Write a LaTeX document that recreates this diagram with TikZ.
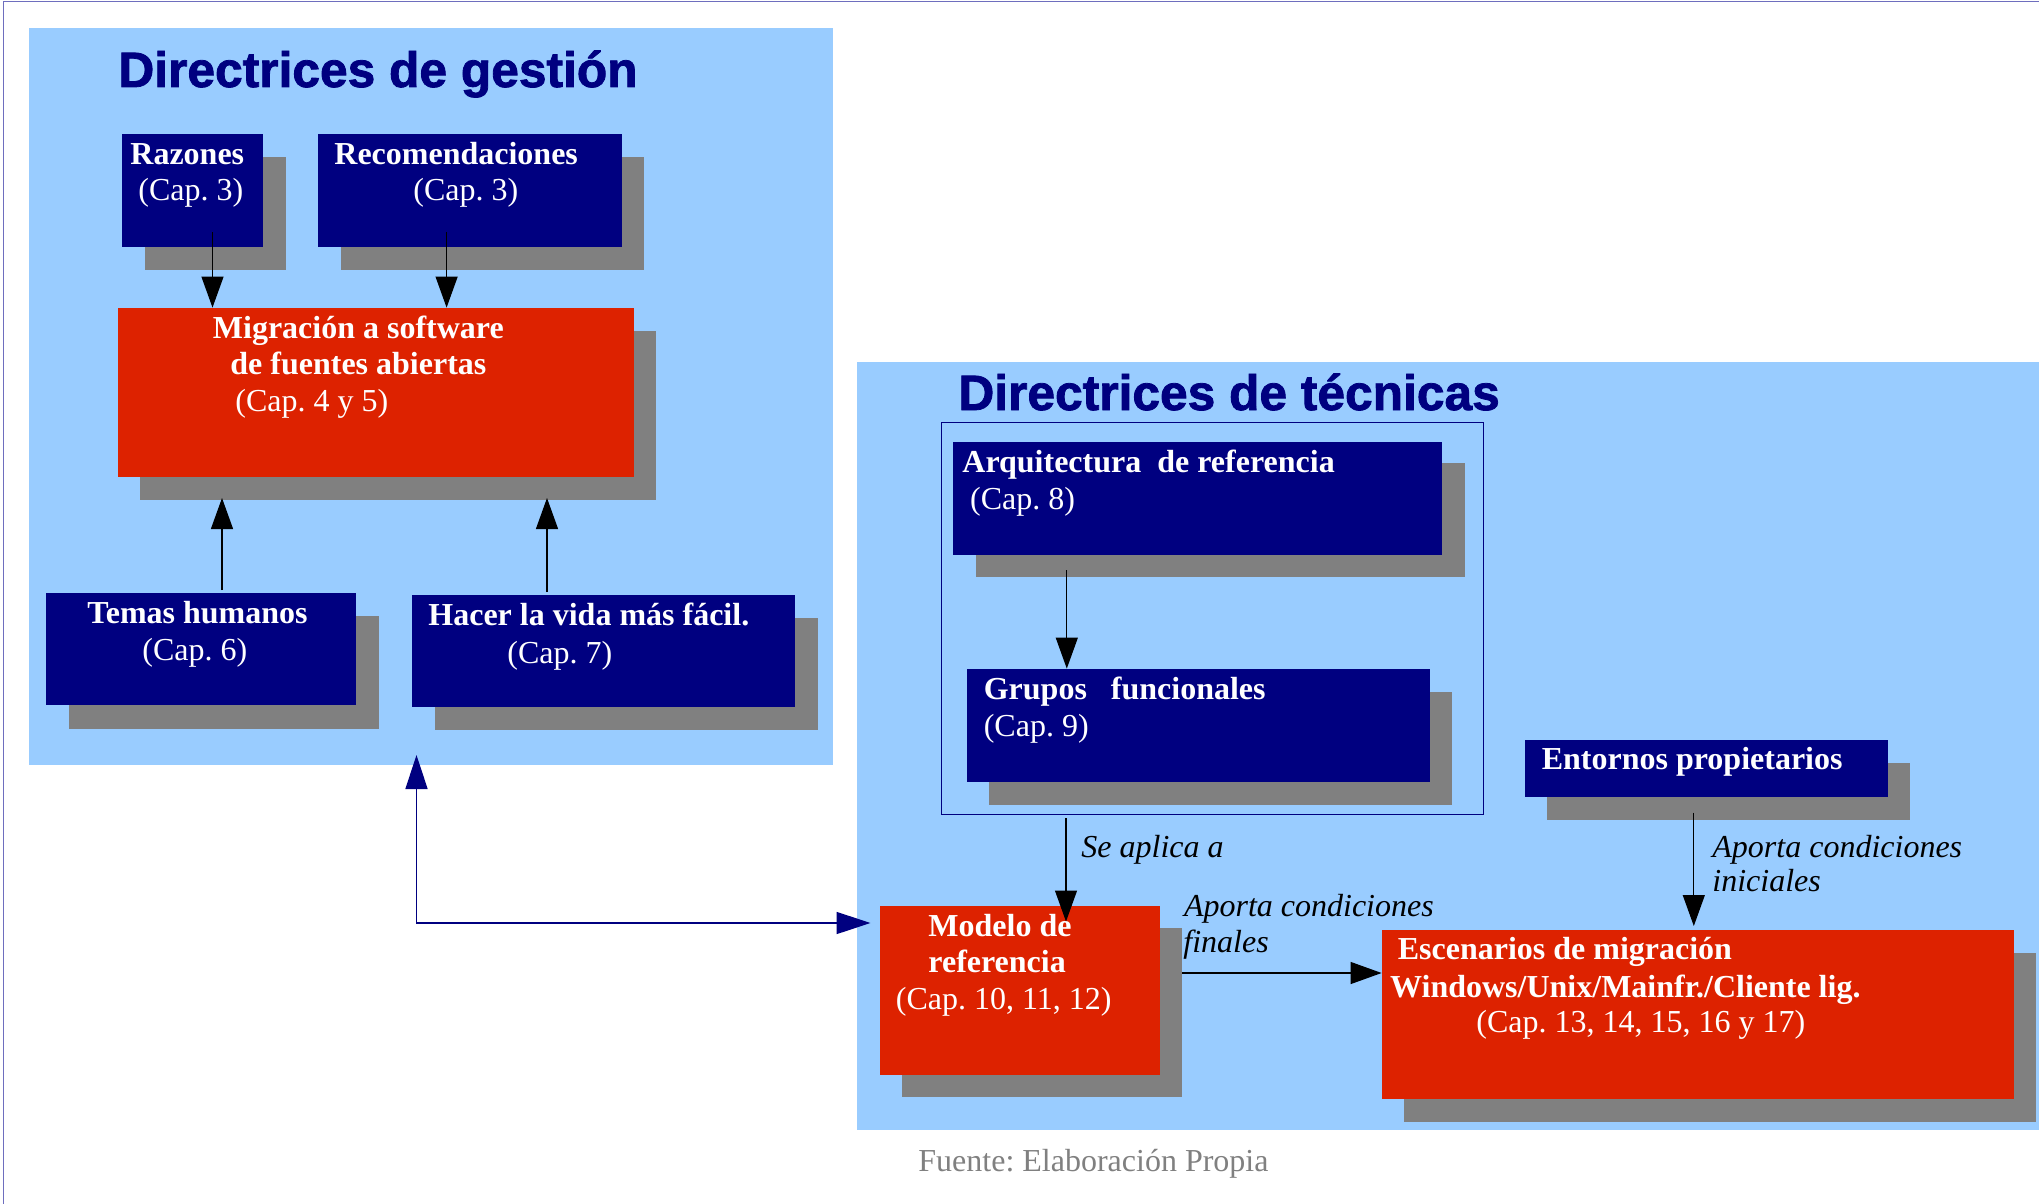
\documentclass[tikz,border=0pt]{standalone}
\usepackage{fontspec}
\setmainfont{Liberation Serif}
\newfontfamily\titlefont{Liberation Sans}[BoldFeatures={FakeBold=1.6}]
\usetikzlibrary{arrows.meta,fit}
\definecolor{panelblue}{HTML}{99CCFF}
\definecolor{navyc}{HTML}{000080}
\definecolor{redbox}{HTML}{DD2200}
\definecolor{shadowgrey}{HTML}{808080}
\definecolor{framec}{HTML}{6E6EBE}
\definecolor{srcgrey}{HTML}{808080}
\frenchspacing
\begin{document}
\frenchspacing
\begin{tikzpicture}[x=0.5pt,y=-0.5pt,
  panel/.style={fill=panelblue, inner sep=0pt},
  nbox/.style={fill=navyc, inner sep=0pt},
  rbox/.style={fill=redbox, inner sep=0pt},
  shd/.style={fill=shadowgrey, inner sep=0pt},
  outl/.style={draw=navyc, line width=0.5pt, inner sep=0pt},
  txt/.style={anchor=base west, inner sep=0pt, text=white, font=\fontsize{16}{19}\selectfont},
  btxt/.style={anchor=base west, inner sep=0pt, text=white, font=\fontsize{16}{19}\selectfont\bfseries},
  lbl/.style={anchor=base west, inner sep=0pt, text=black, font=\fontsize{16}{19}\selectfont\itshape},
  ttl/.style={anchor=base west, inner sep=0pt, text=navyc, font=\titlefont\bfseries\fontsize{24.85}{28}\selectfont},
  src/.style={anchor=base west, inner sep=0pt, text=srcgrey, font=\fontsize{16}{19}\selectfont},
  arr/.style={draw=black, line width=0.6pt, -{Triangle[length=15.5pt,width=11pt]}},
  barr/.style={draw=navyc, line width=0.8pt, {Triangle[length=17pt,width=11pt]}-{Triangle[length=17pt,width=11pt]}},
  frame/.style={draw=framec, line width=0.8pt},
]
\useasboundingbox (0,0) rectangle (2039,1204);
% outer frame (top and left edges)
\draw[frame] (3.5,1204) -- (3.5,1.5) -- (2039,1.5);

% panels
\node[panel, fit={(28.5,28.5) (832.5,764.6)}] (pl) {};
\node[panel, fit={(857,361.5) (2039,1129.5)}] (pr) {};
\node[ttl] (tl) at (118,87) {Directrices de gestión};
\node[ttl] (tr) at (958,410) {Directrices de técnicas};

% ---- left panel boxes ----
\node[shd, fit={(145,157) (286,270)}] (raz-s) {};
\node[nbox, fit={(122,134) (263,247)}] (raz) {};
\node[shd, fit={(341,157) (644,270)}] (rec-s) {};
\node[nbox, fit={(318,134) (622,247)}] (rec) {};
\node[shd, fit={(140,331) (656,500)}] (mig-s) {};
\node[rbox, fit={(118,308) (634,477)}] (mig) {};
\node[shd, fit={(69,616) (379,729)}] (tem-s) {};
\node[nbox, fit={(46,593) (356,705)}] (tem) {};
\node[shd, fit={(435,618) (818,730)}] (hac-s) {};
\node[nbox, fit={(412,595) (795,707)}] (hac) {};

\node[btxt] (raz-t1) at (130,164) {Razones};
\node[txt]  (raz-t2) at (138,200.5) {(Cap. 3)};
\node[btxt] (rec-t1) at (334,164) {Recomendaciones};
\node[txt]  (rec-t2) at (413,200.5) {(Cap. 3)};
\node[btxt] (mig-t1) at (212.5,338) {Migración a software};
\node[btxt] (mig-t2) at (230,374) {de fuentes abiertas};
\node[txt]  (mig-t3) at (235,411) {(Cap. 4 y 5)};
\node[btxt] (tem-t1) at (87,623) {Temas humanos};
\node[txt]  (tem-t2) at (142,660) {(Cap. 6)};
\node[btxt] (hac-t1) at (428,625) {Hacer la vida más fácil.};
\node[txt]  (hac-t2) at (507,663) {(Cap. 7)};

% ---- right panel boxes ----
\node[outl, fit={(941.5,422.6) (1483.8,814)}] (grp-o) {};
\node[shd, fit={(976,463) (1465,577)}] (arq-s) {};
\node[nbox, fit={(953,442) (1442,555)}] (arq) {};
\node[shd, fit={(989,692) (1452,805)}] (gru-s) {};
\node[nbox, fit={(967,669) (1430,782)}] (gru) {};
\node[shd, fit={(1547,763) (1910,820)}] (ent-s) {};
\node[nbox, fit={(1525,740) (1888,797)}] (ent) {};
\node[shd, fit={(902,928) (1182,1097)}] (mod-s) {};
\node[rbox, fit={(880,906) (1160,1074.5)}] (mod) {};
\node[shd, fit={(1404,953) (2036,1122)}] (esc-s) {};
\node[rbox, fit={(1382,930) (2014,1099)}] (esc) {};

\node[btxt] (arq-t1) at (962,472.4) {Arquitectura\ \ de referencia};
\node[txt]  (arq-t2) at (969.8,509) {(Cap. 8)};
\node[btxt] (gru-t1) at (983.4,699.5) {Grupos\ \ \ funcionales};
\node[txt]  (gru-t2) at (983.4,736) {(Cap. 9)};
\node[btxt] (ent-t1) at (1541.4,769.4) {Entornos propietarios};
\node[btxt] (mod-t1) at (928,936.7) {Modelo de};
\node[btxt] (mod-t2) at (928,972.4) {referencia};
\node[txt]  (mod-t3) at (895.5,1009) {(Cap. 10, 11, 12)};
\node[btxt] (esc-t1) at (1397.4,959.7) {Escenarios de migración};
\node[btxt] (esc-t2) at (1389.8,997) {Windows/Unix/Mainfr./Cliente lig.};
\node[txt]  (esc-t3) at (1476,1032.7) {(Cap. 13, 14, 15, 16 y 17)};

% edge labels
\node[lbl] (l-sea) at (1081,857.6) {Se aplica a};
\node[lbl] (l-ini1) at (1712,857.6) {Aporta condiciones};
\node[lbl] (l-ini2) at (1712,891.8) {iniciales};
\node[lbl] (l-fin1) at (1183.6,916) {Aporta condiciones};
\node[lbl] (l-fin2) at (1183,952) {finales};

% source
\node[src] (fuente) at (918,1171) {Fuente: Elaboración Propia};

% ---- connectors ----
\coordinate (a1s) at (212.5,232);
\draw[arr] (a1s) -- (a1s |- mig.north);
\coordinate (a2s) at (446.6,232);
\draw[arr] (a2s) -- (a2s |- mig.north);
\coordinate (a3s) at (222,590);
\coordinate (a3e) at (222,498);
\draw[arr] (a3s) -- (a3e);
\coordinate (a4s) at (547,592);
\coordinate (a4e) at (547,498);
\draw[arr] (a4s) -- (a4e);
\coordinate (a5s) at (1066.8,570);
\draw[arr] (a5s) -- (a5s |- gru.north);
\coordinate (a6s) at (1066,818);
\coordinate (a6e) at (1066,921.5);
\draw[arr] (a6s) -- (a6e);
\coordinate (a7s) at (1693.8,812.7);
\coordinate (a7e) at (1693.8,926);
\draw[arr] (a7s) -- (a7e);
\coordinate (a8s) at (1182,973);
\draw[arr] (a8s) -- (esc.west |- a8s);
\coordinate (b1) at (416.5,755);
\coordinate (b2) at (870.5,923);
\draw[barr] (b1) |- (b2);
\end{tikzpicture}
\end{document}
